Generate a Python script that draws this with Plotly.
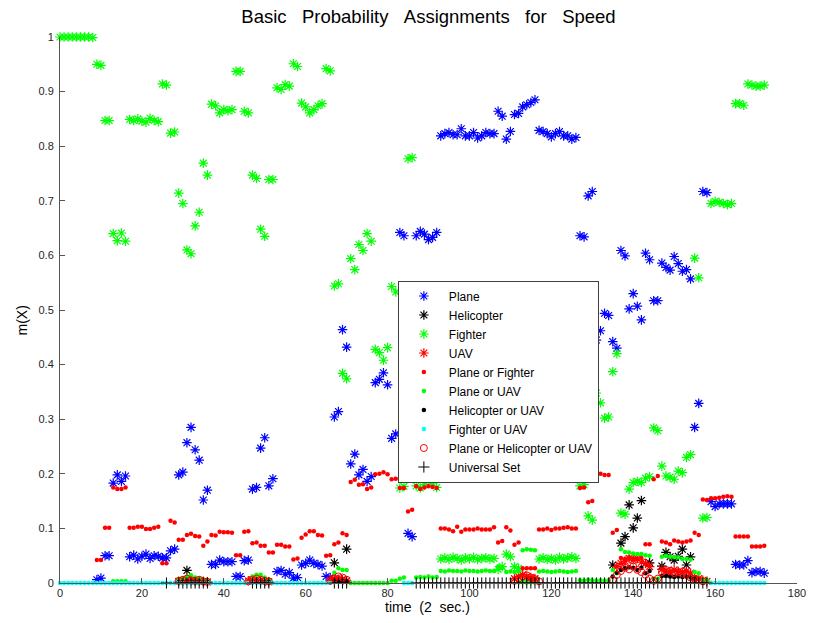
import plotly.graph_objects as go

# Each series is a list of runs: (first time step, consecutive m(X) values)
plane = [
    (9, [0.006, 0.009, 0.050, 0.050, 0.183, 0.198, 0.186, 0.196]),
    (17, [0.048, 0.051, 0.044, 0.049, 0.053, 0.045, 0.050, 0.049, 0.046, 0.046]),
    (27, [0.059, 0.062, 0.198, 0.203, 0.257, 0.285, 0.244, 0.225, 0.152, 0.170]),
    (37, [0.034, 0.034, 0.042, 0.039, 0.039, 0.039, 0.012, 0.012, 0.041, 0.042]),
    (47, [0.172, 0.175, 0.247, 0.266, 0.178, 0.191, 0.021, 0.023, 0.016, 0.019, 0.009, 0.010]),
    (59, [0.033, 0.036, 0.042, 0.036, 0.034, 0.031, 0.012, 0.010]),
    (67, [0.304, 0.314, 0.464, 0.432, 0.218, 0.236, 0.198, 0.208, 0.186, 0.195,
          0.367, 0.373, 0.385, 0.363, 0.265, 0.273]),
    (83, [0.642, 0.636, 0.091, 0.085, 0.636, 0.644, 0.639, 0.629, 0.633, 0.642]),
    (93, [0.819, 0.823, 0.825, 0.821, 0.821, 0.832, 0.819, 0.819, 0.825, 0.815,
          0.819, 0.825, 0.823, 0.823]),
    (107, [0.864, 0.855, 0.813, 0.827, 0.858, 0.860, 0.872, 0.876, 0.880, 0.885]),
    (117, [0.829, 0.827, 0.823, 0.817, 0.823, 0.827, 0.819, 0.819, 0.813, 0.816]),
    (127, [0.636, 0.634, 0.709, 0.717, 0.445, 0.462, 0.494, 0.490, 0.442, 0.430]),
    (137, [0.609, 0.599, 0.502, 0.530, 0.507, 0.482, 0.604, 0.592, 0.517, 0.517]),
    (147, [0.586, 0.578, 0.573, 0.598, 0.585, 0.571, 0.574, 0.557, 0.285, 0.329]),
    (157, [0.717, 0.715, 0.149, 0.140, 0.145, 0.145, 0.145, 0.145]),
    (165, [0.034, 0.033, 0.033, 0.041, 0.019, 0.021, 0.021, 0.018]),
]

helicopter = [
    (31, [0.023]),
    (67, [0.037]),
    (70, [0.062]),
    (135, [0.033]),
    (137, [0.073, 0.085, 0.143, 0.101, 0.119, 0.151]),
    (144, [0.037]),
    (147, [0.031, 0.056, 0.048, 0.042, 0.049, 0.062, 0.033, 0.048]),
]

fighter = [
    (0, [1.000, 1.000, 1.000, 1.000, 1.000, 1.000, 1.000, 1.000, 0.999]),
    (9, [0.950, 0.948, 0.847, 0.847, 0.640, 0.627, 0.641, 0.626]),
    (17, [0.849, 0.847, 0.850, 0.846, 0.844, 0.851, 0.847, 0.845, 0.914, 0.912, 0.824, 0.826]),
    (29, [0.714, 0.695, 0.610, 0.603, 0.654, 0.679, 0.769, 0.747]),
    (37, [0.877, 0.874, 0.861, 0.867, 0.865, 0.867, 0.937, 0.937, 0.864, 0.861]),
    (47, [0.747, 0.741, 0.648, 0.635, 0.739, 0.739, 0.907, 0.904, 0.913, 0.910, 0.951, 0.946]),
    (59, [0.879, 0.872, 0.861, 0.867, 0.874, 0.878, 0.942, 0.938]),
    (67, [0.544, 0.548, 0.384, 0.374, 0.594, 0.574, 0.620, 0.609, 0.640, 0.626,
          0.428, 0.422, 0.408, 0.431, 0.543, 0.533]),
    (83, [0.174, 0.177, 0.777, 0.779, 0.178, 0.174, 0.180, 0.186, 0.183, 0.175]),
    (93, [0.044, 0.046, 0.043, 0.047, 0.045, 0.042, 0.046, 0.044, 0.047, 0.043,
          0.045, 0.046, 0.044, 0.045]),
    (107, [0.025, 0.030, 0.053, 0.048, 0.030, 0.027, 0.004, 0.005, 0.004, 0.006]),
    (117, [0.044, 0.046, 0.043, 0.045, 0.042, 0.047, 0.044, 0.046, 0.048, 0.045]),
    (127, [0.178, 0.180, 0.123, 0.115, 0.348, 0.330, 0.302, 0.304, 0.387, 0.420]),
    (137, [0.128, 0.126, 0.172, 0.184, 0.186, 0.184, 0.192, 0.195, 0.284, 0.279]),
    (147, [0.214, 0.196, 0.194, 0.190, 0.205, 0.202, 0.230, 0.235, 0.595, 0.559]),
    (157, [0.119, 0.120, 0.695, 0.699, 0.697, 0.695, 0.693, 0.695]),
    (165, [0.878, 0.878, 0.875, 0.914, 0.912, 0.910, 0.910, 0.912]),
]

uav = [
    (29, [0.003, 0.004, 0.005, 0.004, 0.003, 0.004, 0.003, 0.002]),
    (46, [0.004, 0.006, 0.005, 0.004, 0.003, 0.002]),
    (66, [0.005, 0.008, 0.007, 0.006, 0.004]),
    (111, [0.008, 0.012, 0.015, 0.012, 0.010, 0.008]),
    (136, [0.030, 0.036, 0.040, 0.045, 0.042, 0.045, 0.038, 0.036, 0.030]),
    (147, [0.025, 0.022, 0.020, 0.024, 0.021, 0.020, 0.022, 0.018, 0.010, 0.008, 0.005, 0.003]),
]

plane_or_fighter = [
    (9, [0.042, 0.042, 0.101, 0.101, 0.175, 0.172, 0.172, 0.175]),
    (17, [0.101, 0.101, 0.103, 0.103, 0.099, 0.099, 0.101, 0.103, 0.036, 0.036, 0.114, 0.111]),
    (29, [0.079, 0.079, 0.088, 0.090, 0.086, 0.085, 0.068, 0.076]),
    (37, [0.088, 0.087, 0.094, 0.093, 0.093, 0.092, 0.051, 0.051, 0.094, 0.095]),
    (47, [0.073, 0.074, 0.068, 0.068, 0.056, 0.056, 0.070, 0.070, 0.067, 0.067, 0.043, 0.045]),
    (59, [0.083, 0.089, 0.095, 0.095, 0.088, 0.087, 0.050, 0.051]),
    (67, [0.071, 0.074, 0.091, 0.088, 0.185, 0.189, 0.180, 0.181, 0.172, 0.175,
          0.199, 0.200, 0.203, 0.199, 0.190, 0.191]),
    (83, [0.174, 0.174, 0.131, 0.134, 0.177, 0.172, 0.175, 0.177, 0.176, 0.174]),
    (93, [0.100, 0.100, 0.098, 0.095, 0.103, 0.094, 0.098, 0.098, 0.098, 0.100,
          0.098, 0.098, 0.098, 0.102]),
    (107, [0.074, 0.077, 0.102, 0.096, 0.070, 0.074, 0.027, 0.027, 0.027, 0.027]),
    (117, [0.098, 0.098, 0.100, 0.097, 0.100, 0.100, 0.101, 0.102, 0.100, 0.100]),
    (127, [0.174, 0.175, 0.148, 0.150, 0.202, 0.200, 0.198, 0.198, 0.092, 0.097]),
    (137, [0.046, 0.044, 0.047, 0.045, 0.043, 0.046, 0.071, 0.071, 0.190, 0.196]),
    (147, [0.076, 0.074, 0.071, 0.078, 0.076, 0.074, 0.076, 0.078, 0.092, 0.088]),
    (157, [0.153, 0.152, 0.155, 0.155, 0.156, 0.158, 0.159, 0.158]),
    (165, [0.085, 0.085, 0.085, 0.085, 0.067, 0.067, 0.067, 0.068]),
]

plane_or_uav = [
    (13, [0.003, 0.003, 0.003, 0.003]),
    (29, [0.006, 0.008, 0.012, 0.014, 0.010, 0.008, 0.006, 0.005]),
    (47, [0.012, 0.015, 0.015, 0.010, 0.005]),
    (67, [0.019, 0.027, 0.024, 0.024, 0.000, 0.000, 0.000, 0.000, 0.000, 0.000,
          0.000, 0.000, 0.000, 0.000, 0.004, 0.004, 0.008, 0.010]),
    (87, [0.010, 0.011, 0.010, 0.012, 0.010, 0.011]),
    (93, [0.022, 0.021, 0.023, 0.022, 0.022, 0.021, 0.023, 0.022, 0.022, 0.021,
          0.022, 0.023, 0.022, 0.022]),
    (107, [0.030, 0.028, 0.020, 0.021, 0.020, 0.021, 0.060, 0.062, 0.061, 0.060]),
    (117, [0.021, 0.022, 0.021, 0.020, 0.021, 0.022, 0.021, 0.020, 0.021, 0.022]),
    (127, [0.005, 0.004, 0.006, 0.005, 0.004, 0.005, 0.004, 0.005, 0.024, 0.018]),
    (137, [0.062, 0.057, 0.056, 0.054, 0.053, 0.053, 0.051, 0.050, 0.008, 0.008]),
    (147, [0.048, 0.050, 0.048, 0.047, 0.047, 0.044, 0.044, 0.043, 0.020, 0.018]),
    (157, [0.006, 0.005]),
]

helicopter_or_uav = [
    (29, [0.002, 0.002, 0.003, 0.002, 0.002, 0.003, 0.002, 0.002]),
    (47, [0.002, 0.003, 0.002, 0.002, 0.002]),
    (67, [0.003, 0.003, 0.004, 0.003]),
    (135, [0.012, 0.019, 0.024, 0.027, 0.029, 0.028, 0.024, 0.028, 0.018, 0.022]),
    (147, [0.013, 0.013, 0.012, 0.011, 0.012, 0.011, 0.012, 0.010, 0.008]),
]

fighter_or_uav = [
    (0, [0.0, 0.0, 0.0, 0.0, 0.0, 0.0, 0.0, 0.0, 0.0, 0.0, 0.0, 0.0, 0.0, 0.0, 0.0, 0.0,
         0.0, 0.0, 0.0, 0.0, 0.0, 0.0, 0.0, 0.0, 0.0, 0.0, 0.0, 0.0, 0.0, 0.0, 0.0, 0.0,
         0.0, 0.0, 0.0, 0.0, 0.0, 0.0, 0.0, 0.0, 0.0, 0.0, 0.0, 0.0, 0.0, 0.0, 0.0, 0.0,
         0.0, 0.0, 0.0, 0.0, 0.0, 0.0, 0.0, 0.0, 0.0, 0.0, 0.0, 0.0, 0.0, 0.0, 0.0, 0.0,
         0.0, 0.0, 0.0]),
    (84, [0.0, 0.0, 0.0]),
    (159, [0.0, 0.0, 0.0, 0.0, 0.0, 0.0, 0.0, 0.0, 0.0, 0.0, 0.0, 0.0, 0.0, 0.0]),
]

plane_or_helicopter_or_uav = [
    (29, [0.004, 0.006, 0.008, 0.005, 0.004, 0.006, 0.003, 0.002]),
    (46, [0.003, 0.006, 0.008, 0.006, 0.004, 0.003]),
    (66, [0.004, 0.008, 0.012, 0.010, 0.006]),
    (111, [0.004, 0.008, 0.012, 0.014, 0.010, 0.007, 0.003]),
    (135, [0.006, 0.015, 0.022, 0.028, 0.025, 0.030, 0.024, 0.020, 0.015, 0.008,
           0.004, 0.008, 0.020, 0.024, 0.022, 0.018, 0.020, 0.017, 0.015, 0.010,
           0.008, 0.005, 0.003]),
]

universal_set = [
    (26, [0.0]),
    (29, [0.0, 0.0, 0.0, 0.0, 0.0, 0.0, 0.0, 0.0]),
    (47, [0.0, 0.0, 0.0, 0.0, 0.0]),
    (67, [0.0, 0.0, 0.0, 0.0]),
    (87, [0.0, 0.0, 0.0, 0.0, 0.0, 0.0, 0.0, 0.0, 0.0, 0.0, 0.0, 0.0, 0.0, 0.0, 0.0, 0.0,
          0.0, 0.0, 0.0, 0.0, 0.0, 0.0, 0.0, 0.0, 0.0, 0.0, 0.0, 0.0, 0.0, 0.0, 0.0, 0.0,
          0.0, 0.0, 0.0, 0.0, 0.0, 0.0, 0.0, 0.0, 0.0, 0.0, 0.0, 0.0, 0.0, 0.0, 0.0, 0.0,
          0.0, 0.0, 0.0, 0.0, 0.0, 0.0, 0.0, 0.0, 0.0, 0.0, 0.0, 0.0, 0.0, 0.0, 0.0, 0.0,
          0.0, 0.0, 0.0, 0.0, 0.0, 0.0, 0.0, 0.0]),
]

x_ticks = [0, 20, 40, 60, 80, 100, 120, 140, 160, 180]
y_ticks = [0, 0.1, 0.2, 0.3, 0.4, 0.5, 0.6, 0.7, 0.8, 0.9, 1]
y_tick_text = ["0", "0.1", "0.2", "0.3", "0.4", "0.5", "0.6", "0.7", "0.8", "0.9", "1"]

# name, runs, marker symbol, colour, marker size, outline width
series = [
    ("Plane", plane, "asterisk-open", "#0000ff", 8, 1.2),
    ("Helicopter", helicopter, "asterisk-open", "#000000", 8, 1.2),
    ("Fighter", fighter, "asterisk-open", "#00ff00", 8, 1.2),
    ("UAV", uav, "asterisk-open", "#ff0000", 8, 1.2),
    ("Plane or Fighter", plane_or_fighter, "circle", "#ff0000", 4.5, 0),
    ("Plane or UAV", plane_or_uav, "circle", "#00ff00", 4.5, 0),
    ("Helicopter or UAV", helicopter_or_uav, "circle", "#000000", 4.5, 0),
    ("Fighter or UAV", fighter_or_uav, "circle", "#00ffff", 4.5, 0),
    ("Plane or Helicopter or UAV", plane_or_helicopter_or_uav, "circle-open", "#ff0000", 7, 1),
    ("Universal Set", universal_set, "cross-thin-open", "#000000", 8, 1),
]


def expand(runs):
    xs, ys = [], []
    for start, values in runs:
        for i, v in enumerate(values):
            xs.append(start + i)
            ys.append(v)
    return xs, ys


FONT = "Liberation Sans, Arial, Helvetica, sans-serif"

fig = go.Figure()
for name, runs, symbol, color, size, lw in series:
    xs, ys = expand(runs)
    fig.add_trace(go.Scatter(
        x=xs, y=ys, mode="markers", name=name, cliponaxis=False,
        marker=dict(symbol=symbol, color=color, size=size,
                    line=dict(color=color, width=lw)),
    ))

axis_common = dict(
    showgrid=False, zeroline=False, showline=True, linecolor="#555555",
    linewidth=1, ticks="inside", ticklen=5, tickcolor="#555555",
    tickfont=dict(family=FONT, size=11, color="#262626"), mirror=False,
)

fig.update_layout(
    width=818, height=623,
    margin=dict(l=60, r=12, t=37, b=40),
    paper_bgcolor="white", plot_bgcolor="white",
    font=dict(family=FONT, color="#000000"),
    title=dict(
        text="Basic\u00a0\u00a0\u00a0Probability\u00a0\u00a0\u00a0Assignments\u00a0\u00a0\u00a0for\u00a0\u00a0\u00a0Speed",
        x=0.5, xref="paper", y=1 - 17 / 623, yref="container",
        xanchor="center", yanchor="middle",
        font=dict(family=FONT, size=18.5, color="#000000"),
    ),
    xaxis=dict(range=[0, 180], tickvals=x_ticks, **axis_common),
    yaxis=dict(range=[0, 1], tickvals=y_ticks, ticktext=y_tick_text,
               ticklabelstandoff=3, **axis_common),
    legend=dict(
        x=(402 - 60) / 746, y=(583 - 381.5) / 546, xanchor="left", yanchor="middle",
        bgcolor="white", bordercolor="#404040", borderwidth=1, itemwidth=40,
        font=dict(family=FONT, size=12, color="#000000"),
    ),
    showlegend=True,
    annotations=[
        dict(text="time\u00a0\u00a0(2\u00a0\u00a0sec.)", xref="paper", yref="paper",
             x=(432 - 60) / 746, y=-24 / 546, xanchor="center", yanchor="middle",
             showarrow=False, font=dict(family=FONT, size=14, color="#000000")),
        dict(text="m(X)", xref="paper", yref="paper", textangle=-90,
             x=-38 / 746, y=(583 - 320) / 546, xanchor="center", yanchor="middle",
             showarrow=False, font=dict(family=FONT, size=14, color="#000000")),
    ],
)

fig.write_html("out.html")
